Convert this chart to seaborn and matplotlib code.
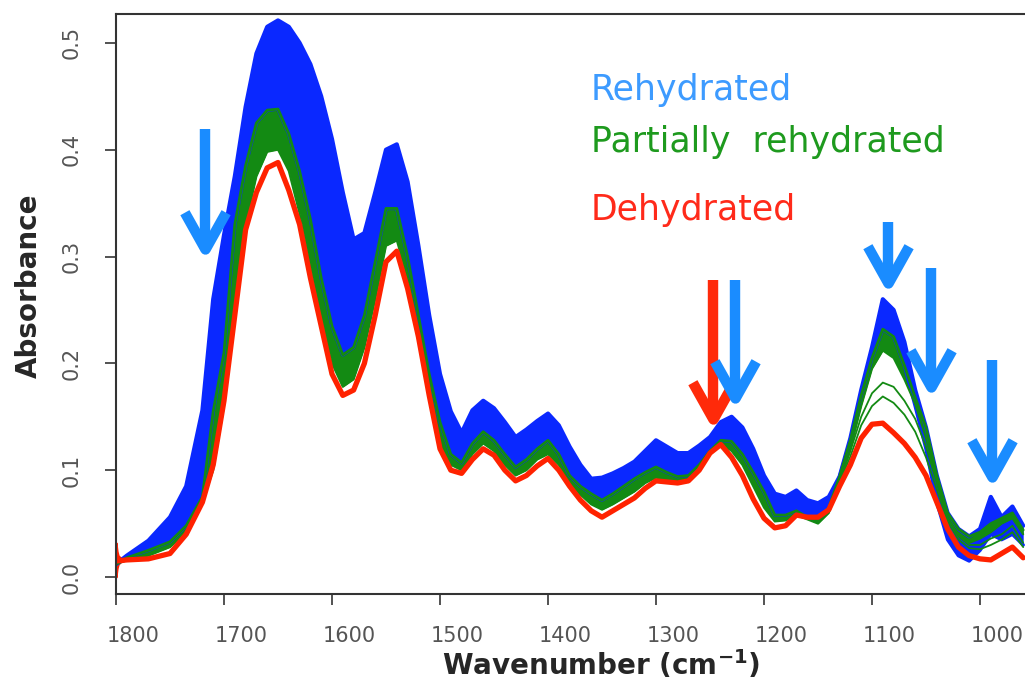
#!/usr/bin/env python3
"""
FTIR spectra of rehydrated / partially rehydrated / dehydrated samples
(amide and fingerprint region), drawn as envelopes of the spectral families.
"""

import pandas as pd
import numpy as np

import matplotlib
matplotlib.use('Agg')
import matplotlib.pyplot as plt
from matplotlib.path import Path
from matplotlib.markers import MarkerStyle
from matplotlib.transforms import ScaledTranslation
import seaborn as sns

# wavenumber grid (cm-1)
wavenumber = [1800, 1790, 1770, 1750, 1735, 1720, 1710, 1700, 1690, 1680,
              1670, 1660, 1650, 1640, 1630, 1620, 1610, 1600, 1590, 1580,
              1570, 1560, 1550, 1540, 1530, 1520, 1510, 1500, 1490, 1480,
              1470, 1460, 1450, 1440, 1430, 1420, 1410, 1400, 1390, 1380,
              1370, 1360, 1350, 1340, 1330, 1320, 1310, 1300, 1290, 1280,
              1270, 1260, 1250, 1240, 1230, 1220, 1210, 1200, 1190, 1180,
              1170, 1160, 1150, 1140, 1130, 1120, 1110, 1100, 1090, 1080,
              1070, 1060, 1050, 1040, 1030, 1020, 1010, 1000, 990, 980,
              970, 960]

# rehydrated spectra: upper and lower envelope
blue_hi = [0.012, 0.020, 0.034, 0.056, 0.085, 0.156, 0.260, 0.320, 0.375, 0.440,
           0.490, 0.515, 0.521, 0.515, 0.500, 0.480, 0.450, 0.410, 0.360, 0.316,
           0.322, 0.360, 0.400, 0.405, 0.370, 0.310, 0.245, 0.190, 0.155, 0.135,
           0.156, 0.165, 0.158, 0.145, 0.131, 0.138, 0.146, 0.153, 0.142, 0.122,
           0.105, 0.092, 0.093, 0.097, 0.102, 0.108, 0.118, 0.128, 0.122, 0.116,
           0.116, 0.123, 0.131, 0.145, 0.150, 0.140, 0.120, 0.095, 0.078, 0.075,
           0.081, 0.072, 0.069, 0.075, 0.094, 0.130, 0.175, 0.215, 0.260, 0.250,
           0.220, 0.175, 0.140, 0.095, 0.060, 0.045, 0.038, 0.045, 0.075, 0.056,
           0.066, 0.048]
blue_lo = [0.012, 0.018, 0.025, 0.033, 0.048, 0.075, 0.155, 0.210, 0.330, 0.385,
           0.425, 0.437, 0.438, 0.415, 0.380, 0.335, 0.280, 0.235, 0.208, 0.215,
           0.245, 0.295, 0.345, 0.345, 0.300, 0.245, 0.190, 0.145, 0.115, 0.107,
           0.125, 0.136, 0.128, 0.115, 0.103, 0.110, 0.120, 0.128, 0.115, 0.095,
           0.085, 0.078, 0.072, 0.078, 0.085, 0.092, 0.098, 0.103, 0.098, 0.094,
           0.095, 0.105, 0.118, 0.128, 0.127, 0.115, 0.098, 0.080, 0.058, 0.058,
           0.062, 0.056, 0.052, 0.065, 0.094, 0.128, 0.170, 0.205, 0.232, 0.225,
           0.198, 0.160, 0.120, 0.070, 0.035, 0.020, 0.015, 0.025, 0.040, 0.035,
           0.040, 0.030]

# partially rehydrated spectra: upper and lower envelope
green_hi = [0.012, 0.018, 0.025, 0.033, 0.048, 0.075, 0.155, 0.210, 0.330, 0.385,
            0.425, 0.437, 0.438, 0.415, 0.380, 0.335, 0.280, 0.235, 0.208, 0.215,
            0.245, 0.295, 0.345, 0.345, 0.300, 0.245, 0.190, 0.145, 0.115, 0.107,
            0.125, 0.136, 0.128, 0.115, 0.103, 0.110, 0.120, 0.128, 0.115, 0.095,
            0.085, 0.078, 0.072, 0.078, 0.085, 0.092, 0.098, 0.103, 0.098, 0.094,
            0.095, 0.105, 0.118, 0.128, 0.127, 0.115, 0.098, 0.080, 0.058, 0.058,
            0.062, 0.056, 0.052, 0.065, 0.094, 0.128, 0.170, 0.205, 0.232, 0.225,
            0.198, 0.168, 0.140, 0.095, 0.060, 0.045, 0.038, 0.042, 0.050, 0.055,
            0.060, 0.044]
green_lo = [0.012, 0.016, 0.020, 0.028, 0.042, 0.070, 0.100, 0.160, 0.250, 0.330,
            0.375, 0.398, 0.400, 0.380, 0.340, 0.290, 0.240, 0.200, 0.178, 0.185,
            0.215, 0.260, 0.310, 0.315, 0.280, 0.230, 0.180, 0.125, 0.105, 0.100,
            0.115, 0.125, 0.118, 0.105, 0.095, 0.100, 0.110, 0.115, 0.105, 0.088,
            0.077, 0.068, 0.063, 0.068, 0.074, 0.080, 0.088, 0.093, 0.091, 0.090,
            0.090, 0.100, 0.115, 0.125, 0.118, 0.105, 0.085, 0.065, 0.052, 0.053,
            0.058, 0.054, 0.050, 0.060, 0.087, 0.120, 0.160, 0.195, 0.212, 0.205,
            0.185, 0.162, 0.130, 0.090, 0.056, 0.040, 0.032, 0.036, 0.042, 0.050,
            0.055, 0.040]

# dehydrated spectrum
red = [0.015, 0.016, 0.017, 0.022, 0.040, 0.070, 0.105, 0.165, 0.245, 0.325,
       0.360, 0.383, 0.388, 0.362, 0.330, 0.280, 0.235, 0.190, 0.170, 0.175,
       0.200, 0.245, 0.295, 0.305, 0.270, 0.225, 0.170, 0.120, 0.100, 0.097,
       0.110, 0.120, 0.114, 0.100, 0.090, 0.095, 0.104, 0.111, 0.100, 0.085,
       0.072, 0.062, 0.056, 0.062, 0.068, 0.074, 0.083, 0.090, 0.089, 0.088,
       0.090, 0.100, 0.116, 0.124, 0.112, 0.095, 0.073, 0.055, 0.046, 0.048,
       0.058, 0.056, 0.056, 0.063, 0.085, 0.105, 0.130, 0.143, 0.144, 0.135,
       0.125, 0.112, 0.095, 0.070, 0.045, 0.028, 0.020, 0.017, 0.016, 0.022,
       0.028, 0.018]

# noisy start of the dehydrated spectra at 1800 cm-1
edge_wn = [1800, 1799, 1798, 1796, 1793]
edge_lo = [0.000, 0.008, 0.012, 0.014, 0.015]
edge_hi = [0.032, 0.024, 0.020, 0.018, 0.017]

# a few intermediate partially rehydrated spectra (1140-960 cm-1)
thin_wn = [1140, 1130, 1120, 1110, 1100, 1090, 1080, 1070, 1060, 1050,
           1040, 1030, 1020, 1010, 1000, 990, 980, 970, 960]
thin_a = [0.062, 0.090, 0.118, 0.150, 0.172, 0.182, 0.178, 0.165, 0.148, 0.122,
          0.088, 0.055, 0.038, 0.030, 0.030, 0.036, 0.040, 0.048, 0.032]
thin_b = [0.062, 0.088, 0.113, 0.142, 0.160, 0.169, 0.163, 0.152, 0.136, 0.112,
          0.082, 0.052, 0.035, 0.027, 0.026, 0.030, 0.035, 0.042, 0.028]

# annotation arrows: (wavenumber, shaft top, head vertex, colour)
arrow_wn = [1718, 1247, 1227, 1085, 1045, 989]
arrow_top = [0.419, 0.278, 0.278, 0.332, 0.289, 0.203]
arrow_tip = [0.307, 0.148, 0.168, 0.275, 0.178, 0.094]
arrow_col = ['#1a8cff', '#ff2a0a', '#1a8cff', '#1a8cff', '#1a8cff', '#1a8cff']

labels = ['Rehydrated', 'Partially  rehydrated', 'Dehydrated']
label_colors = ['#3d9bff', '#1e9a1e', '#ff2a1a']
label_base = [0.852, 0.762, 0.645]

BLUE = '#0a28ff'
GREEN = '#138a13'
RED = '#ff2200'

sns.set_theme(style="white")
plt.rcParams['font.family'] = ['DejaVu Sans']
plt.rcParams['mathtext.fontset'] = 'dejavusans'

fig = plt.figure(figsize=(10.25, 6.87), dpi=100)
ax = fig.add_axes([116 / 1025, 93 / 687, 918 / 1025, 580 / 687])

df = pd.DataFrame({'wn': wavenumber, 'blue_hi': blue_hi, 'blue_lo': blue_lo,
                   'green_hi': green_hi, 'green_lo': green_lo, 'red': red})
thin = pd.DataFrame({'wn': thin_wn, 'a': thin_a, 'b': thin_b})

# rehydrated family
ax.fill_between(df['wn'], df['blue_lo'], df['blue_hi'], color=BLUE, lw=0)
sns.lineplot(data=df, x='wn', y='blue_hi', color=BLUE, lw=3, ax=ax)
sns.lineplot(data=df, x='wn', y='blue_lo', color=BLUE, lw=2.5, ax=ax)

# partially rehydrated family
ax.fill_between(df['wn'], df['green_lo'], df['green_hi'], color=GREEN, lw=0)
sns.lineplot(data=df, x='wn', y='green_hi', color=GREEN, lw=2, ax=ax)
sns.lineplot(data=df, x='wn', y='green_lo', color=GREEN, lw=1.5, ax=ax)
sns.lineplot(data=thin, x='wn', y='a', color=GREEN, lw=1.3, ax=ax)
sns.lineplot(data=thin, x='wn', y='b', color=GREEN, lw=1.3, ax=ax)

# dehydrated family
sns.lineplot(data=df, x='wn', y='red', color=RED, lw=3.8, ax=ax)
ax.fill_between(edge_wn, edge_lo, edge_hi, color=RED, lw=1.5, edgecolor=RED)

# arrows: thick shaft + open chevron head
chevron = MarkerStyle(Path([(-0.56, 1.0), (0.0, 0.0), (0.56, 1.0)],
                           [Path.MOVETO, Path.LINETO, Path.LINETO]),
                      joinstyle='miter', capstyle='butt')
for wn, top, tip, col in zip(arrow_wn, arrow_top, arrow_tip, arrow_col):
    ax.plot([wn, wn], [top, tip], color=col, lw=7.5, solid_capstyle='butt',
            zorder=5)
    ax.plot([wn], [tip], marker=chevron, ms=53, mew=7.5, mec=col,
            mfc='none', ls='none', zorder=5)

for txt, col, yb in zip(labels, label_colors, label_base):
    ax.text(0.517, yb, txt, color=col, fontsize=25,
            transform=ax.transAxes, va='baseline', ha='left')

ax.set_xlim(1800, 950)
ax.set_ylim(-0.0159, 0.527)
ax.set_xticks([1800, 1700, 1600, 1500, 1400, 1300, 1200, 1100, 1000])
ax.set_yticks([0.0, 0.1, 0.2, 0.3, 0.4, 0.5])
ax.set_yticklabels(['0.0', '0.1', '0.2', '0.3', '0.4', '0.5'], rotation=90, va='center')

ax.tick_params(axis='both', which='major', direction='out', length=8, width=1.3,
               color='#444444', labelcolor='#555555', labelsize=15,
               left=True, bottom=True)
ax.tick_params(axis='y', pad=17)
ax.tick_params(axis='x', pad=15)

# x tick labels sit slightly right of their ticks in the original
shift = ScaledTranslation(17 / 100, 0, fig.dpi_scale_trans)
for lab in ax.get_xticklabels():
    lab.set_transform(lab.get_transform() + shift)

for side in ['left', 'bottom', 'top']:
    ax.spines[side].set_color('#333333')
    ax.spines[side].set_linewidth(1.5)
ax.spines['right'].set_visible(False)

ax.set_xlabel(r'Wavenumber (cm$^{\mathbf{-1}}$)', fontsize=20, fontweight='bold')
ax.set_ylabel('Absorbance', fontsize=20, fontweight='bold')
ax.yaxis.set_label_coords(-0.08, 0.531)
ax.xaxis.set_label_coords(0.528, -0.094)
ax.grid(False)

fig.savefig('out.png', dpi=100)
plt.close(fig)
